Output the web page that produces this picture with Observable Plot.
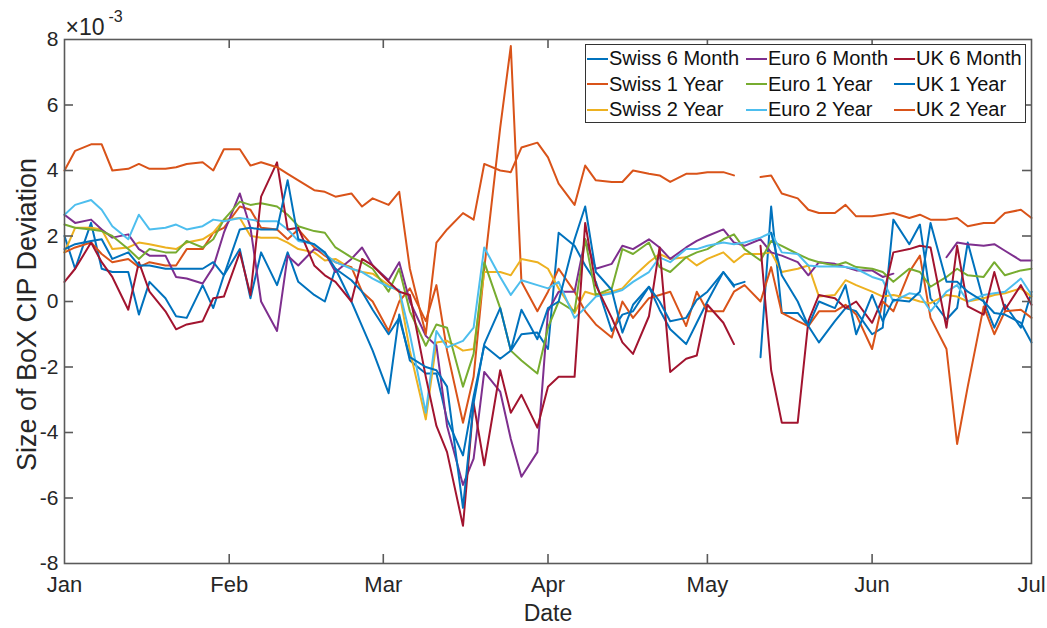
<!DOCTYPE html>
<html><head><meta charset="utf-8">
<script src="https://cdn.jsdelivr.net/npm/d3@7"></script>
<script src="https://cdn.jsdelivr.net/npm/@observablehq/plot@0.6"></script>
<style>
body{margin:0;background:#fff;}
#wrap{position:relative;width:1047px;height:628px;font-family:"Liberation Sans",Arial,sans-serif;}
#legend{position:absolute;left:585px;top:44px;width:441px;height:79px;box-sizing:border-box;border:1px solid #333;background:#fff;display:grid;grid-template-columns:159px 148px 1fr;grid-template-rows:repeat(3,25.5px);grid-auto-flow:column;padding-top:1px;font-size:20px;color:#111;}
.item{display:flex;align-items:center;white-space:nowrap;}
.sw{width:21px;height:0;border-top:2px solid;margin-left:1px;margin-right:1px;}
</style></head>
<body><div id="wrap"><div id="legend"></div></div>
<script>
const dates = [
 "2020-01-01","2020-01-03","2020-01-06","2020-01-08","2020-01-10","2020-01-13","2020-01-15","2020-01-17","2020-01-20","2020-01-22","2020-01-24","2020-01-27","2020-01-29","2020-01-31",
 "2020-02-03","2020-02-05","2020-02-07","2020-02-10","2020-02-12","2020-02-14","2020-02-17","2020-02-19","2020-02-21","2020-02-24","2020-02-26","2020-02-28",
 "2020-03-02","2020-03-04","2020-03-06","2020-03-09","2020-03-11","2020-03-13","2020-03-16","2020-03-18","2020-03-20","2020-03-23","2020-03-25","2020-03-27","2020-03-30",
 "2020-04-01","2020-04-03","2020-04-06","2020-04-08","2020-04-10","2020-04-13","2020-04-15","2020-04-17","2020-04-20","2020-04-22","2020-04-24","2020-04-27","2020-04-29",
 "2020-05-01","2020-05-04","2020-05-06","2020-05-08","2020-05-11","2020-05-13","2020-05-15","2020-05-18","2020-05-20","2020-05-22","2020-05-25","2020-05-27","2020-05-29",
 "2020-06-01","2020-06-03","2020-06-05","2020-06-08","2020-06-10","2020-06-12","2020-06-15","2020-06-17","2020-06-19","2020-06-22","2020-06-24","2020-06-26","2020-06-29",
 "2020-07-01"];

const swiss6M = [
 2.0, 1.0, 2.4, 1.0, 0.9, 0.9, -0.4, 0.6, 0.1, -0.45, -0.5, 0.5, -0.2, 0.8,
 1.6, 0.1, 1.5, 0.5, 1.5, 0.6, 0.2, 0.0, 1.0, 0.0, -0.75, -1.5,
 -2.8, -0.4, -1.8, -2.2, -2.2, -3.6, -4.7, -2.9, -1.35, -1.75, -1.5, -1.0, -0.95,
 -1.45, 2.1, 1.7, 1.1, 0.6, -0.9, -0.4, -0.3, 0.45, -0.25, -0.85, -1.3, -0.65,
 0.0, 0.9, 0.45, null, -1.7, 2.9, -0.35, -0.35, -0.75, -1.25, -0.6, -0.2, -0.3,
 -1.0, -0.8, 2.5, 1.75, 2.35, 0.1, -0.55, -0.2, 1.8, 0.0, -0.8, -0.1, -0.8,
 0.3];
const swiss1Y = [
 1.5, 1.65, 1.8, 1.45, 1.2, 1.3, 1.05, 1.2, 1.1, 1.1, 1.6, 1.6, 2.1, 2.25,
 2.9, 2.8, 2.25, 2.2, 1.9, 2.2, 1.65, 1.4, 1.2, 1.05, 0.3, 0.0,
 -0.9, 0.0, 0.4, -0.6, 0.5, -1.5, -3.7, -2.3, 1.0, 5.3, 7.8, 0.6, -0.3,
 0.3, 1.0, 0.3, -0.3, -0.7, -1.1, 0.0, -0.5, 0.1, 0.2, 0.3, -0.75, 0.3,
 -0.3, -0.3, 0.3, 0.5, 0.0, 1.05, -0.35, -0.6, -0.75, -0.3, -0.3, -0.1, -0.4,
 -1.45, 0.0, -0.3, 0.9, 1.4, -0.5, -1.45, -4.35, -2.6, -0.15, -1.0, -0.3, -0.25,
 -0.5];
const swiss2Y = [
 1.5, 2.25, 2.25, 2.2, 1.6, 1.65, 1.8, 1.75, 1.65, 1.6, 1.8, 1.9, 2.1, 2.5,
 2.55, 2.0, 1.95, 1.95, 1.8, 1.6, 1.5, 1.25, 1.3, 1.0, 0.9, 0.85,
 0.5, 0.3, -1.5, -3.6, -1.25, -1.2, -1.5, -1.45, 0.9, 0.9, 0.8, 1.3, 1.2,
 1.0, 0.4, -0.35, 0.3, 0.2, 0.3, 0.4, 0.75, 1.2, 1.45, 1.3, 1.35, 1.1,
 1.3, 1.5, 1.2, 1.45, 1.45, 1.5, 0.9, 1.0, 1.1, 0.15, 0.2, 0.65, 0.5,
 0.3, 0.15, 0.2, 0.1, 0.0, -0.05, 0.2, 0.15, 0.0, 0.1, 0.2, 0.25, 0.4,
 0.15];
const euro6M = [
 2.65, 2.4, 2.5, 2.2, 1.95, 2.05, 1.6, 1.4, 1.4, 0.75, 0.7, 0.55, 1.05, 2.1,
 3.3, 2.25, 0.0, -0.9, 1.4, 1.1, 1.6, 1.5, 0.9, 1.3, 1.65, 1.1,
 0.65, 1.2, 0.0, -1.05, -1.35, -3.8, -5.6, -4.8, -2.15, -2.75, -4.2, -5.35, -4.6,
 -0.3, 0.3, 0.3, 1.9, 1.0, 1.15, 1.7, 1.6, 1.9, 1.65, 1.3, 1.65, 1.85,
 2.0, 2.2, 1.8, 1.7, 1.9, 1.5, 1.4, 1.2, 0.8, 1.2, 1.15, 1.05, 0.95,
 0.95, 0.75, 0.85, null, null, null, 1.35, 1.8, 1.75, 1.7, 1.75, 1.55, 1.25,
 1.25];
const euro1Y = [
 2.35, 2.25, 2.2, 2.15, 2.0, 1.6, 1.3, 1.6, 1.5, 1.5, 1.85, 1.65, 1.9, 2.5,
 3.05, 2.95, 3.0, 2.9, 2.65, 2.3, 2.15, 2.1, 1.65, 1.35, 1.2, 1.0,
 0.3, 1.0, -0.3, -1.35, -0.7, -0.8, -2.6, -1.6, 1.2, -0.2, -1.5, -1.8, -2.2,
 -0.8, 0.0, -0.3, 1.9, 0.2, 0.4, 1.6, 1.45, 1.8, 1.05, 0.9, 1.35, 1.5,
 1.6, 1.9, 2.05, 1.6, 1.25, 1.85, 1.7, 1.45, 1.3, 1.2, 1.1, 1.2, 1.05,
 1.0, 0.9, 0.6, 1.0, 0.9, 0.45, 0.75, 1.0, 0.8, 0.75, 1.2, 0.8, 0.95,
 1.0];
const euro2Y = [
 2.65, 2.95, 3.1, 2.8, 2.3, 1.9, 2.65, 2.2, 2.25, 2.35, 2.2, 2.3, 2.5, 2.45,
 2.55, 2.5, 2.45, 2.45, 2.2, 1.85, 1.75, 1.45, 1.2, 1.0, 0.9, 0.7,
 0.45, 0.35, -1.0, -3.4, -0.9, -1.4, -1.2, -0.8, 1.65, 0.75, 0.2, 0.65, 0.5,
 0.4, 0.6, -0.5, -0.2, 0.15, 0.25, 0.35, 0.6, 0.9, 1.35, 1.2, 1.6, 1.6,
 1.7, 1.8, 1.75, 1.8, 1.95, 2.1, 1.5, 1.45, 1.1, 1.07, 1.07, 1.05, 1.0,
 0.75, 0.65, 0.0, 0.25, 0.2, -0.3, 0.3, 0.5, 0.0, 0.2, 0.25, 0.3, 0.7,
 0.2];
const uk6M = [
 0.6, 1.0, 1.8, 1.2, 0.75, -0.25, 1.2, 0.3, -0.3, -0.85, -0.7, -0.6, 0.1, 0.15,
 1.5, 0.2, 3.2, 4.25, 2.2, 2.25, 1.1, 0.8, 0.6, 0.0, 1.3, 1.1,
 0.6, 0.3, 0.2, -2.3, -3.8, -4.6, -6.85, -3.1, -5.0, -2.1, -3.4, -2.85, -3.85,
 -2.6, -2.3, -2.3, 2.4, 0.5, -0.5, -1.25, -1.6, -0.45, 1.65, -2.15, -1.75, -1.65,
 -0.1, -0.65, -1.3, null, 1.7, -2.1, -3.7, -3.7, -0.6, 0.2, 0.1, -0.2, 0.0,
 -0.65, 0.1, 1.5, 1.6, 1.7, 1.65, -0.8, 1.7, -0.15, -0.4, 0.9, -0.25, 0.5,
 -0.1];
const uk1Y = [
 1.6, 1.75, 1.85, 1.9, 1.3, 1.5, 1.1, 1.1, 1.0, 1.0, 1.0, 1.0, 1.2, 0.8,
 2.2, 2.25, 2.2, 2.2, 3.7, 1.9, 1.75, 1.5, 1.0, 0.65, 0.3, -0.25,
 -1.0, -0.5, -1.7, -2.0, -2.1, -2.6, -6.3, -3.1, -1.3, -0.2, -1.5, -0.25, -1.15,
 -0.2, 0.0, 1.9, 2.9, 0.9, 0.35, -0.95, -0.1, 0.45, 0.0, -0.6, -0.5, 0.05,
 0.3, 0.9, 0.5, 0.6, null, 2.1, 0.8, 0.0, -0.75, 0.0, -0.2, 0.5, -1.0,
 0.2, -0.6, 0.05, 0.0, 0.3, 2.4, 0.6, 0.6, 0.3, 0.0, -0.35, -0.4, -0.65,
 -1.25];
const uk2Y = [
 4.0, 4.6, 4.8, 4.8, 4.0, 4.05, 4.2, 4.05, 4.05, 4.1, 4.2, 4.25, 4.0, 4.65,
 4.65, 4.15, 4.25, 4.1, 3.9, 3.7, 3.4, 3.35, 3.2, 3.3, 2.9, 3.15,
 2.95, 3.35, 1.0, -1.0, 1.8, 2.2, 2.7, 2.5, 4.2, 4.0, 3.95, 4.7, 4.85,
 4.4, 3.6, 2.95, 4.15, 3.7, 3.65, 3.65, 4.0, 3.9, 3.85, 3.65, 3.9, 3.9,
 3.95, 3.95, 3.85, null, 3.8, 3.85, 3.3, 3.15, 2.8, 2.7, 2.7, 2.95, 2.6,
 2.6, 2.65, 2.7, 2.55, 2.65, 2.5, 2.5, 2.55, 2.3, 2.4, 2.4, 2.7, 2.8,
 2.55];

const seriesNames = ["Swiss 6 Month","Swiss 1 Year","Swiss 2 Year","Euro 6 Month","Euro 1 Year","Euro 2 Year","UK 6 Month","UK 1 Year","UK 2 Year"];
const seriesValues = [swiss6M, swiss1Y, swiss2Y, euro6M, euro1Y, euro2Y, uk6M, uk1Y, uk2Y];
const seriesColors = ["#0072BD","#D95319","#EDB120","#7E2F8E","#77AC30","#4DBEEE","#A2142F","#0072BD","#D95319"];
const monthTicks = ["2020-01-01","2020-02-01","2020-03-01","2020-04-01","2020-05-01","2020-06-01","2020-07-01"];
const monthLabels = ["Jan","Feb","Mar","Apr","May","Jun","Jul"];
const yTicks = [-8,-6,-4,-2,0,2,4,6,8];
const yLabel = "Size of BoX CIP Deviation";
const xLabel = "Date";

const rows = seriesNames.flatMap((name, i) =>
  dates.map((d, j) => ({date: new Date(d), value: seriesValues[i][j] == null ? NaN : seriesValues[i][j], series: name})));
const mTicks = monthTicks.map(d => new Date(d));
const W = 1047, H = 628, mL = 64, mR = 16, mT = 39, mB = 65;
const pw = W - mL - mR, ph = H - mT - mB;
const axisColor = "#5a5a5a";

const chart = Plot.plot({
  width: W, height: H,
  marginLeft: mL, marginRight: mR, marginTop: mT, marginBottom: mB,
  style: {fontFamily: "'Liberation Sans', Arial, sans-serif", color: "#262626", background: "#fff", overflow: "visible"},
  x: {type: "utc", domain: [mTicks[0], mTicks[mTicks.length - 1]]},
  y: {domain: [-8, 8]},
  color: {domain: seriesNames, range: seriesColors},
  marks: [
    Plot.lineY(rows, {x: "date", y: "value", z: "series", stroke: "series", strokeWidth: 2, strokeLinejoin: "round"}),
    Plot.frame({stroke: axisColor, strokeWidth: 1.6}),
    Plot.ruleY(yTicks.slice(1, -1), {y: d => d, insetRight: pw - 9, stroke: axisColor, strokeWidth: 1.6}),
    Plot.ruleY(yTicks.slice(1, -1), {y: d => d, insetLeft: pw - 9, stroke: axisColor, strokeWidth: 1.6}),
    Plot.ruleX(mTicks.slice(1, -1), {x: d => d, insetTop: ph - 9, stroke: axisColor, strokeWidth: 1.6}),
    Plot.ruleX(mTicks.slice(1, -1), {x: d => d, insetBottom: ph - 9, stroke: axisColor, strokeWidth: 1.6}),
    Plot.axisY(yTicks, {tickSize: 0, tickPadding: 6, fontSize: 21, tickFormat: d => String(d), label: null, fill: "#262626"}),
    Plot.axisX(mTicks, {tickSize: 0, tickPadding: 13, fontSize: 22, tickFormat: (d, i) => monthLabels[i], label: null, fill: "#262626"}),
    Plot.text([yLabel], {text: d => d, frameAnchor: "left", textAnchor: "middle", lineAnchor: "middle", dx: -37, dy: 13, rotate: -90, fontSize: 27, fill: "#262626"}),
    Plot.text([xLabel], {text: d => d, frameAnchor: "bottom", textAnchor: "middle", lineAnchor: "middle", dy: 50, fontSize: 23, fill: "#262626"}),
    Plot.text(["\u00d710"], {text: d => d, frameAnchor: "top-left", textAnchor: "start", lineAnchor: "middle", dx: 1, dy: -12, fontSize: 23, fill: "#262626"}),
    Plot.text(["-3"], {text: d => d, frameAnchor: "top-left", textAnchor: "start", lineAnchor: "middle", dx: 44, dy: -23, fontSize: 16, fill: "#262626"})
  ]
});
const wrap = document.getElementById("wrap");
wrap.insertBefore(chart, wrap.firstChild);

const legend = document.getElementById("legend");
seriesNames.forEach((name, i) => {
  const item = document.createElement("div");
  item.className = "item";
  const sw = document.createElement("span");
  sw.className = "sw";
  sw.style.borderTopColor = seriesColors[i];
  const t = document.createElement("span");
  t.textContent = name;
  item.appendChild(sw); item.appendChild(t);
  legend.appendChild(item);
});
</script></body></html>
